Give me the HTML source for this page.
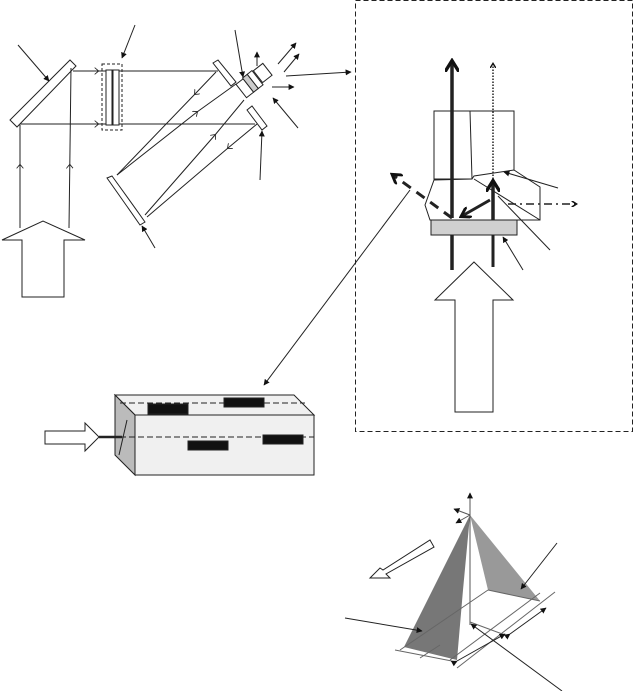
<!DOCTYPE html>
<html><head><meta charset="utf-8"><style>html,body{margin:0;padding:0;background:#fff}svg{display:block}</style></head>
<body>
<svg width="635" height="691" viewBox="0 0 635 691" xmlns="http://www.w3.org/2000/svg">
<defs>
<marker id="a" viewBox="0 0 10 10" refX="9" refY="5" markerWidth="6" markerHeight="6" orient="auto"><path d="M0,0L10,5L0,10z" fill="#111"/></marker>
<marker id="o" viewBox="0 0 10 10" refX="5" refY="5" markerWidth="7" markerHeight="7" orient="auto"><path d="M0,0L6,5L0,10" fill="none" stroke="#222" stroke-width="1.2"/></marker>
<marker id="t" viewBox="0 0 10 10" refX="7" refY="5" markerWidth="4" markerHeight="4" orient="auto"><path d="M0,0L8,5L0,10" fill="none" stroke="#111" stroke-width="2.4"/></marker>
</defs>
<g stroke="#222" stroke-width="1" fill="none">
<!-- left beams -->
<polygon points="10,120 17,127 76,66 70,60" fill="#fff"/>
<path d="M20,228 L20,165 L20,125" marker-mid="url(#o)"/>
<path d="M69,228 L69.8,165 L71,68" marker-mid="url(#o)"/>
<polygon points="2,240 43,221 85,240 64,240 64,297 22,297 22,240" fill="#fff"/>
<path d="M73,71 L98,71 L218,71" marker-mid="url(#o)"/>
<path d="M20,124 L98,124 L255,124" marker-mid="url(#o)"/>
<line x1="18" y1="45" x2="49" y2="81" marker-end="url(#a)"/>
<rect x="102" y="64" width="20" height="66" stroke-dasharray="3,2"/>
<rect x="106" y="70" width="6" height="55" fill="#fff"/>
<rect x="113" y="70" width="6" height="55" fill="#fff"/>
<line x1="135" y1="25" x2="122" y2="58" marker-end="url(#a)"/>
<!-- tube -->
<polygon points="213,63 218,60 236,82 231,86" fill="#fff"/>
<polygon points="247,110 252,106 267,126 262,130" fill="#fff"/>
<path d="M107,178 L112,176 Q128,198 145,222 L140,225 Q124,202 107,178z" fill="#fff"/>
<path d="M216,72 L195,94 L117,175" marker-mid="url(#o)"/>
<path d="M117,175 L197,112 L236,84" marker-mid="url(#o)"/>
<path d="M145,215 L215,135 L244,100" marker-mid="url(#o)"/>
<path d="M257,124 L228,148 L147,217" marker-mid="url(#o)"/>
<g transform="translate(252,82) rotate(-38)">
<rect x="-14" y="-8" width="9" height="17" fill="#fff"/>
<rect x="-5" y="-9" width="6" height="18" fill="#ccc"/>
<rect x="1" y="-9" width="6" height="18" fill="#fff"/>
<rect x="8" y="-8" width="12" height="15" fill="#fff"/>
</g>
<line x1="257" y1="66" x2="257" y2="52" marker-end="url(#a)"/>
<line x1="278" y1="64" x2="296" y2="43" marker-end="url(#a)"/>
<line x1="284" y1="72" x2="299" y2="54" marker-end="url(#a)"/>
<line x1="272" y1="87" x2="294" y2="87" marker-end="url(#a)"/>
<line x1="286" y1="76" x2="351" y2="72" marker-end="url(#a)"/>
<line x1="235" y1="30" x2="243" y2="77" marker-end="url(#a)"/>
<line x1="298" y1="128" x2="273" y2="98" marker-end="url(#a)"/>
<line x1="260" y1="180" x2="262" y2="131" marker-end="url(#a)"/>
<line x1="155" y1="248" x2="142" y2="226" marker-end="url(#a)"/>
<line x1="410" y1="190" x2="264" y2="385" marker-end="url(#a)"/>
<!-- dashed box -->
<rect x="355.5" y="0.5" width="277" height="431" stroke-dasharray="5,3"/>
<!-- right detail -->
<rect x="434" y="111" width="80" height="68" fill="#fff"/>
<line x1="470" y1="111" x2="472" y2="179"/>
<polygon points="434,180 472,179 474,176 514,170 540,187 540,220 430,220 425,205" fill="#fff"/>
<line x1="474" y1="179" x2="540" y2="220"/>
<rect x="431" y="220" width="86" height="15" fill="#d0d0d0"/>
<line x1="493" y1="218" x2="493" y2="64" stroke-dasharray="1.5,1.5" stroke-width="1.5" marker-end="url(#t)"/>
<line x1="452" y1="218" x2="452" y2="62" stroke-width="3.5" marker-end="url(#t)"/>
<line x1="452" y1="235" x2="452" y2="270" stroke-width="3.5"/>
<line x1="493" y1="235" x2="493" y2="267" stroke-width="3"/>
<line x1="493" y1="220" x2="493" y2="182" stroke-width="3.5" marker-end="url(#t)"/>
<line x1="490" y1="200" x2="462" y2="216" stroke-width="3" marker-end="url(#t)"/>
<line x1="452" y1="218" x2="393" y2="175" stroke-width="3" stroke-dasharray="10,7" marker-end="url(#t)"/>
<line x1="508" y1="204" x2="576" y2="204" stroke-width="1.6" stroke-dasharray="8,4,2,4" marker-end="url(#t)"/>
<line x1="558" y1="188" x2="504" y2="172" marker-end="url(#a)"/>
<line x1="550" y1="250" x2="498" y2="196"/>
<line x1="523" y1="270" x2="503" y2="237" marker-end="url(#a)"/>
<polygon points="474,262 513,300 493,300 493,412 455,412 455,300 435,300" fill="#fff"/>
<!-- block -->
<polygon points="115,395 294,395 314,415 135,415" fill="#f0f0f0"/>
<polygon points="115,395 135,415 135,475 115,455" fill="#bbb"/>
<rect x="135" y="415" width="179" height="60" fill="#f0f0f0"/>
<line x1="120" y1="403" x2="305" y2="403" stroke-dasharray="6,3"/>
<line x1="120" y1="437" x2="314" y2="437" stroke-dasharray="6,3"/>
<line x1="119" y1="455" x2="127" y2="420"/>
<rect x="148" y="404" width="40" height="10" fill="#111"/>
<rect x="224" y="398" width="40" height="9" fill="#111"/>
<rect x="188" y="441" width="40" height="9" fill="#111"/>
<rect x="263" y="435" width="40" height="9" fill="#111"/>
<polygon points="45,431 85,431 85,423 99,437 85,451 85,444 45,444" fill="#fff"/>
<line x1="99" y1="437" x2="122" y2="437" stroke-width="2.5"/>
<!-- pyramid -->
<polygon points="470,515 463,590 457,660 404,647" fill="#777" stroke="none"/>
<polygon points="470,515 488,590 540,601" fill="#999" stroke="none"/>
<line x1="470" y1="495" x2="470" y2="625" stroke="#555"/>
<line x1="470" y1="515" x2="454" y2="509" stroke="#555" marker-end="url(#a)"/>
<line x1="470" y1="515" x2="456" y2="523" stroke="#555" marker-end="url(#a)"/>
<line x1="470" y1="497" x2="470" y2="493" marker-end="url(#a)"/>
<g stroke="#666">
<line x1="488" y1="590" x2="400" y2="650"/>
<line x1="540" y1="593" x2="450" y2="660"/>
<line x1="555" y1="592" x2="457" y2="668"/>
<line x1="488" y1="590" x2="540" y2="601"/>
<line x1="395" y1="650" x2="457" y2="662"/>
<line x1="470" y1="622" x2="505" y2="635"/>
<line x1="420" y1="658" x2="440" y2="645"/>
</g>
<polygon points="430,540 434,547 386,574 390,578 370,578 380,568 383,570" fill="#fff"/>
<line x1="457" y1="661" x2="505" y2="634" marker-start="url(#a)" marker-end="url(#a)"/>
<line x1="510" y1="634" x2="546" y2="608" marker-start="url(#a)" marker-end="url(#a)"/>
<line x1="557" y1="543" x2="521" y2="589" marker-end="url(#a)"/>
<line x1="345" y1="618" x2="422" y2="631" marker-end="url(#a)"/>
<line x1="562" y1="691" x2="471" y2="624" marker-end="url(#a)"/>
</g>
</svg>
</body></html>
